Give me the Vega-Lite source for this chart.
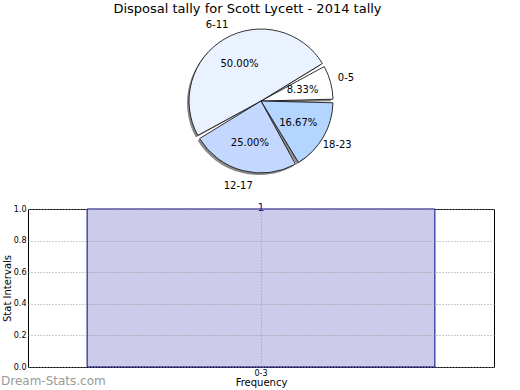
{
  "$schema": "https://vega.github.io/schema/vega-lite/v6.json",
  "padding": {"top": 2, "left": 0, "right": 0, "bottom": 0},
  "background": "white",
  "title": {"text": "Disposal tally for Scott Lycett - 2014 tally", "font": "DejaVu Sans", "fontSize": 13, "fontWeight": "normal", "anchor": "middle", "offset": 4, "color": "#000000"},
  "bounds": "flush",
  "spacing": 28,
  "config": {"font": "DejaVu Sans"},
  "vconcat": [
    {
      "width": 466,
      "height": 160,
      "view": {"stroke": null},
      "data": {"values": [
        {"range": "0-5", "count": 1, "pct": "8.33%", "ord": 1},
        {"range": "6-11", "count": 6, "pct": "50.00%", "ord": 4},
        {"range": "12-17", "count": 3, "pct": "25.00%", "ord": 3},
        {"range": "18-23", "count": 2, "pct": "16.67%", "ord": 2}
      ]},
      "encoding": {
        "theta": {"field": "count", "type": "quantitative", "stack": true, "scale": {"range": [1.047198, 7.330383]}},
        "order": {"field": "ord", "type": "quantitative"}
      },
      "layer": [
        {"mark": {"type": "arc", "outerRadius": 72, "padAngle": 0.05, "fill": "#8a8a8a", "xOffset": -2, "yOffset": 2}},
        {"mark": {"type": "arc", "outerRadius": 72, "padAngle": 0.05, "stroke": "#000000", "strokeWidth": 0.8},
         "encoding": {"color": {"field": "range", "type": "nominal",
           "scale": {"domain": ["0-5", "6-11", "12-17", "18-23"], "range": ["#ffffff", "#eaf1ff", "#c4d7ff", "#b3d5ff"]},
           "legend": null}}},
        {"mark": {"type": "text", "radius": 43, "fontSize": 10, "color": "#000000"}, "encoding": {"text": {"field": "pct", "type": "nominal"}}},
        {"mark": {"type": "text", "radius": 88, "fontSize": 10, "color": "#000000"}, "encoding": {"text": {"field": "range", "type": "nominal"}}}
      ]
    },
    {
      "width": 466,
      "height": 158,
      "view": {"stroke": "#000000", "strokeWidth": 1},
      "data": {"values": [{"interval": "0-3", "freq": 1}]},
      "layer": [
        {
          "mark": {"type": "bar", "fill": "#ccccea", "stroke": "#000080", "strokeWidth": 1},
          "encoding": {
            "x": {"field": "interval", "type": "nominal",
              "scale": {"paddingInner": 0, "paddingOuter": 0.17},
              "axis": {"title": "Frequency", "labelAngle": 0, "labelFontSize": 8, "labelColor": "#000000", "titleFontSize": 10, "titleFontWeight": "normal", "titleColor": "#000000",
                "grid": true, "gridDash": [1, 2], "gridColor": "#999999", "bandPosition": 0.5, "ticks": false, "domain": false, "labelPadding": 2, "titlePadding": 0, "zindex": 1}},
            "y": {"field": "freq", "type": "quantitative", "scale": {"domain": [0, 1]},
              "axis": {"title": "Stat Intervals", "tickCount": 20, "values": [0, 0.2, 0.4, 0.6, 0.8, 1], "format": ".1f", "labelOverlap": false, "labelFontSize": 8, "labelColor": "#000000", "titleFontSize": 10, "titleFontWeight": "normal", "titleColor": "#000000",
                "grid": true, "gridDash": [1, 2], "gridColor": "#999999", "ticks": false, "domain": false, "labelPadding": 2, "titlePadding": 1, "zindex": 1}}
          }
        },
        {
          "mark": {"type": "text", "color": "#000080", "baseline": "alphabetic", "dy": 2, "fontSize": 10},
          "encoding": {
            "x": {"field": "interval", "type": "nominal"},
            "y": {"field": "freq", "type": "quantitative"},
            "text": {"field": "freq", "type": "quantitative"}
          }
        },
        {
          "data": {"values": [{"mark": "Dream-Stats.com"}]},
          "mark": {"type": "text", "x": 0, "dx": -27, "dy": 14, "align": "left", "baseline": "middle", "fontSize": 12, "color": "#9a9a9a"},
          "encoding": {
            "y": {"datum": 0, "type": "quantitative"},
            "text": {"field": "mark", "type": "nominal"}
          }
        }
      ]
    }
  ]
}
